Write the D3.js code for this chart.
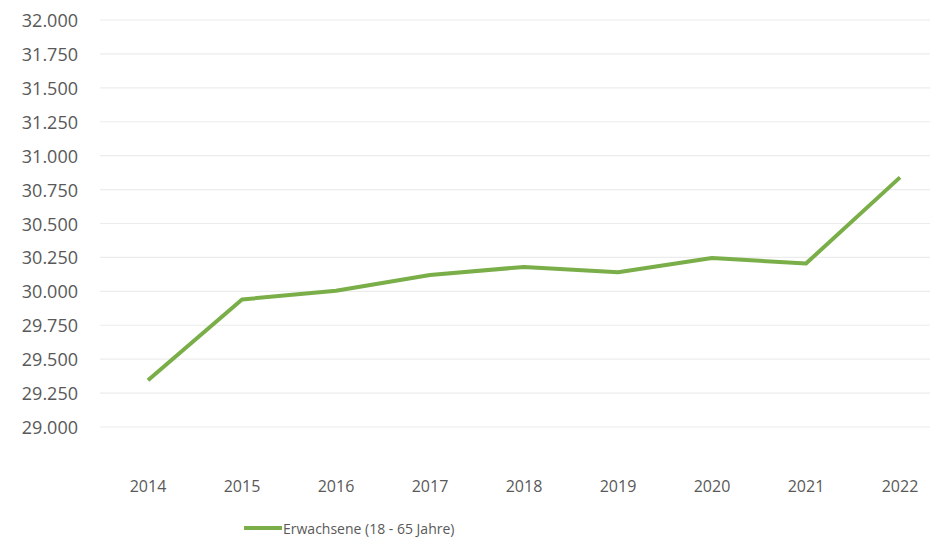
<!DOCTYPE html>
<html>
<head>
<meta charset="utf-8">
<script src="https://cdn.jsdelivr.net/npm/d3@7"></script>
<style>
  body { margin: 0; background: #fff; }
  svg text { font-family: "Open Sans", "Noto Sans", sans-serif; fill: #595959; }
</style>
</head>
<body>
<svg id="chart" width="932" height="553"></svg>
<script>
const years = ['2014', '2015', '2016', '2017', '2018', '2019', '2020', '2021', '2022'];
const adults = [29345, 29940, 30005, 30120, 30180, 30140, 30245, 30205, 30840];
const yTicks = [29000, 29250, 29500, 29750, 30000, 30250, 30500, 30750, 31000, 31250, 31500, 31750, 32000];
const seriesName = 'Erwachsene (18 - 65 Jahre)';

const lineColor = '#7aae48';
const fmt = d3.formatLocale({decimal: ',', thousands: '.', grouping: [3], currency: ['', '€']}).format(',');

var chart = d3.select('#chart');
var xs = d3.scalePoint().domain(years).range([148, 900]);
var ys = d3.scaleLinear().domain([29000, 32000]).range([427, 20]);

// gridlines
chart.append('g').selectAll('line').data(yTicks).enter().append('line')
    .attr('x1', 100).attr('x2', 930)
    .attr('y1', function (d) { return ys(d); })
    .attr('y2', function (d) { return ys(d); })
    .attr('stroke', '#ececec').attr('stroke-width', 1.2);

// y labels
chart.append('g').selectAll('text').data(yTicks).enter().append('text')
    .attr('x', 78)
    .attr('y', function (d) { return ys(d); })
    .attr('text-anchor', 'end')
    .attr('dominant-baseline', 'central')
    .style('font-size', '18px')
    .text(function (d) { return fmt(d); });

// x labels
chart.append('g').selectAll('text').data(years).enter().append('text')
    .attr('x', function (d) { return xs(d); })
    .attr('y', 486)
    .attr('text-anchor', 'middle')
    .attr('dominant-baseline', 'central')
    .style('font-size', '16px')
    .text(function (d) { return d; });

var line = d3.line()
    .x(function (d, i) { return xs(years[i]); })
    .y(function (d) { return ys(d); });

chart.append('path')
    .datum(adults)
    .attr('d', line)
    .attr('fill', 'none')
    .attr('stroke', lineColor)
    .attr('stroke-width', 4)
    .attr('stroke-linejoin', 'round');

// legend
var legend = chart.append('g').attr('transform', 'translate(244, 528)');
legend.append('line')
    .attr('x1', 0).attr('x2', 38).attr('y1', 0).attr('y2', 0)
    .attr('stroke', lineColor).attr('stroke-width', 4);
legend.append('text')
    .attr('x', 39).attr('y', 0)
    .attr('dominant-baseline', 'central')
    .style('font-size', '14px')
    .text(seriesName);
</script>
</body>
</html>
